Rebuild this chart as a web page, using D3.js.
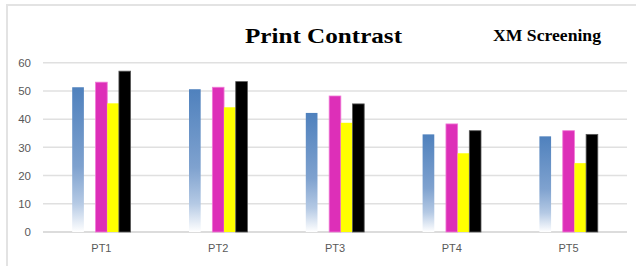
<!DOCTYPE html>
<html>
<head>
<meta charset="utf-8">
<script src="https://cdn.jsdelivr.net/npm/d3@7"></script>
<style>
  body { margin: 0; background: #fff; }
</style>
</head>
<body>
<div class="main"></div>
<script>
const width = 636;
const height = 266;
const margin = ({top: 62.7, right: 9, bottom: 34, left: 43});

// data
const categories = ['PT1', 'PT2', 'PT3', 'PT4', 'PT5'];
const cyan    = [51.3, 50.6, 42.2, 34.6, 33.9];
const magenta = [53.1, 51.3, 48.2, 38.3, 35.9];
const yellow  = [45.6, 44.2, 38.7, 27.9, 24.4];
const black   = [57.0, 53.3, 45.4, 35.9, 34.6];
const yTicks  = [0, 10, 20, 30, 40, 50, 60];

// slot order inside a group (one empty slot after the blue bar)
const slots = ['C', 'gap', 'M', 'Y', 'K'];
const series = [
  {key: 'C', values: cyan,    fill: 'url(#blueFade)', stroke: 'none'},
  {key: 'M', values: magenta, fill: '#dd2fb8', stroke: '#f07ad6'},
  {key: 'Y', values: yellow,  fill: '#ffff00', stroke: 'none'},
  {key: 'K', values: black,   fill: '#000000', stroke: '#595959'}
];

const svg = d3.select('.main')
  .append('svg')
  .attr('width', width)
  .attr('height', height);

const defs = svg.append('defs');
const grad = defs.append('linearGradient')
  .attr('id', 'blueFade')
  .attr('x1', 0).attr('y1', 0).attr('x2', 0).attr('y2', 1);
grad.append('stop').attr('offset', '0%').attr('stop-color', '#4f81bd');
grad.append('stop').attr('offset', '55%').attr('stop-color', '#7fa2cf');
grad.append('stop').attr('offset', '80%').attr('stop-color', '#b4c9e4');
grad.append('stop').attr('offset', '100%').attr('stop-color', '#ffffff');

// chart frame (only top and left edges are visible)
svg.append('path')
  .attr('d', `M7,${height} L7,5 L${width},5`)
  .attr('fill', 'none')
  .attr('stroke', '#e3e3e3')
  .attr('stroke-width', 2);

const y = d3.scaleLinear()
  .domain([0, 60])
  .range([232, margin.top]);

const x0 = d3.scaleBand()
  .domain(categories)
  .range([margin.left, width - margin.right])
  .paddingInner(0.5)
  .paddingOuter(0.25);

const x1 = d3.scaleBand()
  .domain(slots)
  .range([0, x0.bandwidth()]);

// gridlines
svg.append('g')
  .selectAll('line')
  .data(yTicks)
  .enter()
  .append('line')
  .attr('x1', margin.left)
  .attr('x2', width - margin.right)
  .attr('y1', d => y(d))
  .attr('y2', d => y(d))
  .attr('stroke', d => d === 0 ? '#d0d0d0' : '#e0e0e0')
  .attr('stroke-width', 1.5);

// y labels
const yAxis = svg.append('g')
  .attr('transform', 'translate(31, 0)')
  .call(d3.axisLeft(y).tickValues(yTicks).tickSize(0).tickPadding(0))
  .call(g => g.select('.domain').remove());
yAxis.selectAll('text')
  .style('font', '11.5px "Liberation Sans", Arial, sans-serif')
  .style('fill', '#595959');

// x labels
const xAxis = svg.append('g')
  .attr('transform', `translate(0, ${y(0)})`)
  .call(d3.axisBottom(x0).tickSize(0).tickPadding(12))
  .call(g => g.select('.domain').remove());
xAxis.selectAll('text')
  .style('font', '11px "Liberation Sans", Arial, sans-serif')
  .style('fill', '#595959');

// bars
const groups = svg.append('g')
  .selectAll('g')
  .data(series)
  .enter()
  .append('g');

groups.selectAll('rect')
  .data(s => s.values.map((v, i) => ({cat: categories[i], value: v, s: s})))
  .enter()
  .append('rect')
  .attr('x', d => x0(d.cat) + x1(d.s.key))
  .attr('y', d => y(d.value))
  .attr('width', x1.bandwidth())
  .attr('height', d => y(0) - y(d.value))
  .attr('fill', d => d.s.fill)
  .attr('stroke', d => d.s.stroke)
  .attr('stroke-width', 0.8);

// titles
svg.append('text')
  .attr('x', 245)
  .attr('y', 43.3)
  .attr('textLength', 157)
  .attr('lengthAdjust', 'spacingAndGlyphs')
  .style('font', 'bold 22px "Liberation Serif", "Times New Roman", serif')
  .style('fill', '#000')
  .text('Print Contrast');

svg.append('text')
  .attr('x', 493)
  .attr('y', 40.7)
  .attr('textLength', 108)
  .attr('lengthAdjust', 'spacingAndGlyphs')
  .style('font', 'bold 16px "Liberation Serif", "Times New Roman", serif')
  .style('fill', '#000')
  .text('XM Screening');
</script>
</body>
</html>
